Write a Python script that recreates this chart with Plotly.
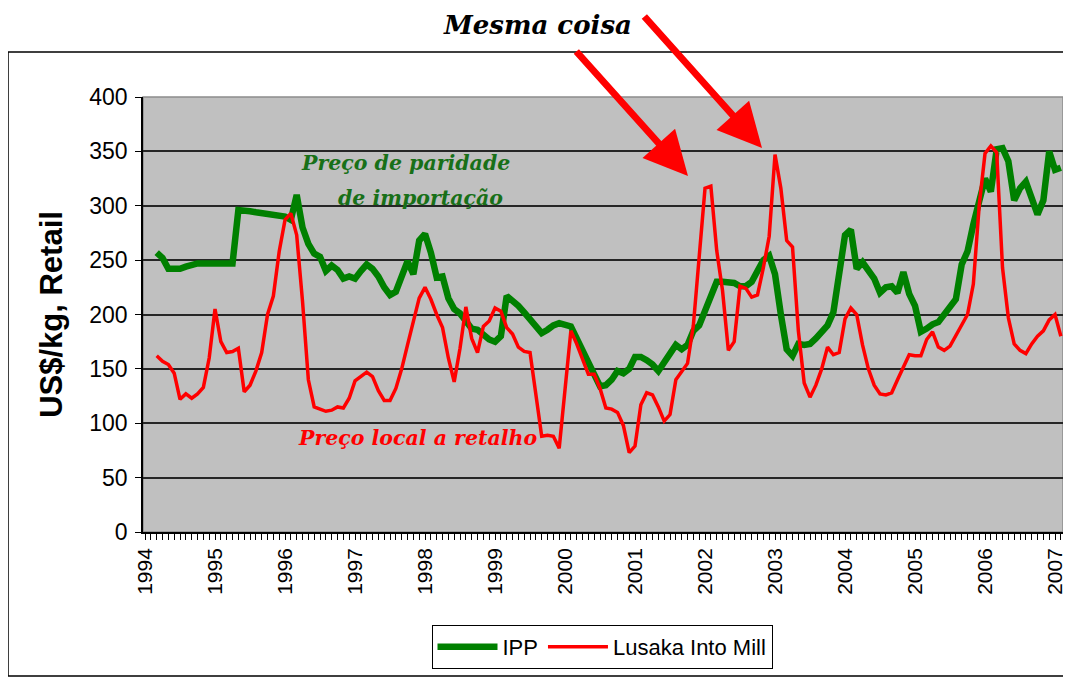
"""IPP vs Lusaka retail maize meal price, 1994-2007."""

import plotly.graph_objects as go

# monthly observations, first one is March 1994
START_YEAR = 1994
START_MONTH = 3

ipp = [
    257, 252, 242, 242, 242, 244, 246, 247, 247, 247, 247, 247, 247, 247,
    296, 296, 295, 294, 293, 293, 292, 291, 290, 287, 310, 280, 265, 256,
    253, 240, 245, 241, 233, 235, 233, 240, 246, 242, 235, 225, 218, 221,
    235, 249, 237, 268, 274, 257, 234, 235, 215, 205, 201, 193, 187, 186,
    182, 177, 175, 180, 217, 213, 208, 202, 196, 188, 183, 186, 190, 192,
    191, 189, 178, 168, 157, 145, 134, 135, 140, 148, 146, 150, 161, 161,
    158, 154, 148, 155, 164, 172, 168, 172, 185, 190, 203, 218, 230, 230,
    230, 229, 226, 226, 230, 240, 250, 254, 237, 200, 168, 162, 173, 172,
    173, 178, 185, 190, 202, 240, 273, 278, 242, 248, 241, 233, 220, 225,
    226, 220, 239, 219, 208, 184, 187, 191, 193, 200, 207, 214, 246, 258,
    283, 305, 325, 313, 352, 353, 341, 305, 316, 322, 305, 292, 305, 350,
    333, 335,
]

lusaka = [
    162, 157, 154, 146, 122, 127, 123, 127, 133, 160, 205, 175, 165, 166,
    169, 129, 135, 148, 165, 200, 217, 258, 287, 293, 273, 212, 140, 115,
    113, 111, 112, 115, 114, 123, 139, 143, 147, 143, 130, 121, 121, 132,
    150, 172, 195, 215, 225, 214, 200, 188, 160, 138, 169, 207, 178, 165,
    189, 194, 206, 203, 188, 182, 170, 166, 165, 128, 88, 89, 88, 77,
    131, 185, 173, 160, 145, 145, 132, 114, 113, 110, 98, 73, 79, 117,
    128, 126, 115, 102, 108, 140, 147, 155, 190, 258, 316, 318, 259, 222,
    167, 175, 226, 224, 216, 218, 243, 272, 347, 316, 268, 262, 185, 137,
    124, 135, 150, 170, 163, 165, 196, 206, 200, 172, 150, 135, 127, 126,
    128, 140, 152, 163, 162, 162, 177, 184, 170, 167, 171, 181, 190, 200,
    228, 300, 348, 355, 349, 243, 197, 173, 167, 164, 173, 180, 185, 195,
    200, 180,
]

years = list(range(1994, 2008))
y_ticks = list(range(0, 401, 50))

dates = [START_YEAR + (START_MONTH - 1 + i) / 12 for i in range(len(ipp))]

# plot area in page pixels (page has an 8px body margin)
PX0, PX1, PY0, PY1 = 143, 1063, 97, 532


def px(x):
    return (x - PX0) / (PX1 - PX0)


def py(y):
    return (PY1 - y) / (PY1 - PY0)


fig = go.Figure()
fig.add_trace(
    go.Scatter(
        x=dates, y=ipp, name="IPP", mode="lines",
        line=dict(color="#008000", width=6.5),
    )
)
fig.add_trace(
    go.Scatter(
        x=dates, y=lusaka, name="Lusaka Into Mill", mode="lines",
        line=dict(color="#FF0000", width=3.5),
    )
)

serif = "DejaVu Serif, Liberation Serif, serif"
labels = [
    ("Preço de paridade", 405, 163, 20.5, "#187018"),
    ("de importação", 420, 198, 20.5, "#187018"),
    ("Preço local a retalho", 417, 438, 20.5, "#FF0000"),
    ("Mesma coisa", 537, 25, 26, "#000000"),
]
for text, x, y, size, color in labels:
    fig.add_annotation(
        text=f"<b><i>{text}</i></b>", x=px(x), y=py(y),
        xref="paper", yref="paper", xanchor="center", yanchor="middle",
        showarrow=False, font=dict(family=serif, size=size, color=color),
    )

# the two arrows: tip (x, y) in pixels, tail offset in pixels
for tip_x, tip_y, dx, dy in [(688, 176, -113, -126), (762, 148, -119, -133)]:
    fig.add_annotation(
        x=px(tip_x), y=py(tip_y), xref="paper", yref="paper", text="",
        showarrow=True, ax=dx, ay=dy,
        arrowcolor="#FF0000", arrowwidth=7, arrowhead=2, arrowsize=1.25,
    )

# outer chart border and plot-area frame
fig.add_shape(
    type="rect", xref="paper", yref="paper",
    x0=px(8), x1=px(1068), y0=py(676), y1=py(52),
    line=dict(color="#000000", width=1.5), layer="below",
)
fig.add_shape(
    type="rect", xref="paper", yref="paper", x0=0, x1=1, y0=0, y1=1,
    line=dict(color="#8c8c8c", width=1.5), layer="below",
)

fig.update_layout(
    width=1063,
    height=669,
    margin=dict(l=PX0 - 8, r=1071 - PX1, t=PY0 - 8, b=677 - PY1),
    paper_bgcolor="#FFFFFF",
    plot_bgcolor="#C0C0C0",
    font=dict(family="Liberation Sans, Arial, sans-serif", color="#000000"),
    showlegend=True,
    legend=dict(
        orientation="h", x=px(602), y=py(647),
        xanchor="center", yanchor="middle",
        bordercolor="#000000", borderwidth=1, bgcolor="#FFFFFF",
        font=dict(size=22), itemwidth=60,
    ),
    xaxis=dict(
        range=[1993.971, 2007.114],
        tickvals=years, ticktext=[str(y) for y in years],
        tickangle=-90, tickfont=dict(size=21),
        ticks="outside", ticklen=6, tickcolor="#000000",
        minor=dict(dtick=1 / 12, ticks="outside", ticklen=6,
                   tickcolor="#000000", showgrid=False),
        showgrid=False, zeroline=False, automargin=False,
        showline=True, linecolor="#000000", linewidth=1.5,
    ),
    yaxis=dict(
        range=[0, 400],
        tickvals=y_ticks, tickfont=dict(size=23), ticklabelstandoff=3,
        ticks="outside", ticklen=6, tickcolor="#000000",
        showgrid=True, gridcolor="#262626", gridwidth=1.5,
        zeroline=False, automargin=False,
        showline=True, linecolor="#000000", linewidth=1.5,
        title=dict(text="<b>US$/kg, Retail</b>", font=dict(size=31), standoff=17),
    ),
)

fig.write_html("out.html")
